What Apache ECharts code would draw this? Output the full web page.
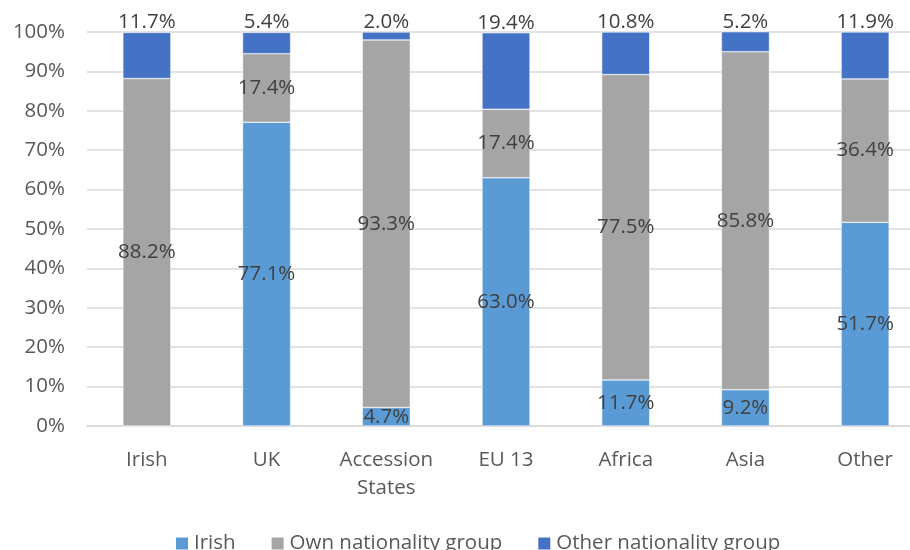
<!DOCTYPE html>
<html>
<head>
<meta charset="utf-8">
<script src="https://cdn.jsdelivr.net/npm/echarts@6/dist/echarts.min.js"></script>
<style>
  html, body { margin: 0; padding: 0; background: #fff; overflow: hidden; }
  /* plot area runs past the right edge in the original, so the canvas is wider than the window */
  #chart { width: 925px; height: 550px; }
</style>
</head>
<body>
<div id="chart"></div>
<script>
// categories and shares (%)
const categories = ['Irish', 'UK', 'Accession\nStates', 'EU 13', 'Africa', 'Asia', 'Other']
const irishShare = [0, 77.1, 4.7, 63.0, 11.7, 9.2, 51.7]
const ownShare = [88.2, 17.4, 93.3, 17.4, 77.5, 85.8, 36.4]
const otherShare = [11.7, 5.4, 2.0, 19.4, 10.8, 5.2, 11.9]
const seriesNames = ['Irish', 'Own nationality group', 'Other nationality group']

const FONT = '"Open Sans", Lato, sans-serif'
const FS = 20.5
const chart = echarts.init(document.getElementById('chart'))

const pct = p => (p.value ? p.value.toFixed(1) + '%' : '')

const labelStyle = {
  show: true,
  fontFamily: FONT,
  fontSize: FS,
  color: '#404040',
  lineHeight: 20,
  formatter: pct
}

function makeSeries(name, data, color, pos) {
  return {
    name: name,
    type: 'bar',
    stack: 'total',
    data: data,
    barWidth: 48,
    itemStyle: { color: color, borderColor: '#fff', borderWidth: 0.5 },
    label: Object.assign({}, labelStyle, pos === 'top' ? { position: 'top', distance: 0 } : { position: 'inside' }),
    emphasis: { disabled: true }
  }
}

const option = {
  backgroundColor: '#fff',
  animation: false,
  grid: { left: 87, top: 32, width: 838, height: 394, containLabel: false },
  legend: {
    top: 528,
    left: 169,
    icon: 'rect',
    itemWidth: 14,
    itemHeight: 14,
    itemGap: 34,
    textStyle: { fontFamily: FONT, fontSize: FS, color: '#595959' },
    data: seriesNames
  },
  xAxis: {
    type: 'category',
    data: categories,
    axisTick: { show: false },
    axisLine: { lineStyle: { color: '#D9D9D9', width: 1.5 } },
    axisLabel: { interval: 0, fontFamily: FONT, fontSize: FS, color: '#595959', margin: 20, lineHeight: 28 }
  },
  yAxis: {
    type: 'value',
    min: 0,
    max: 100,
    interval: 10,
    axisLine: { show: false },
    axisTick: { show: false },
    splitLine: { lineStyle: { color: '#D9D9D9', width: 1.5 } },
    axisLabel: { fontFamily: FONT, fontSize: FS, color: '#595959', margin: 22, formatter: '{value}%' }
  },
  series: [
    makeSeries(seriesNames[0], irishShare, '#5B9BD5', 'inside'),
    makeSeries(seriesNames[1], ownShare, '#A5A5A5', 'inside'),
    makeSeries(seriesNames[2], otherShare, '#4472C4', 'top')
  ]
}

chart.setOption(option)
</script>
</body>
</html>
